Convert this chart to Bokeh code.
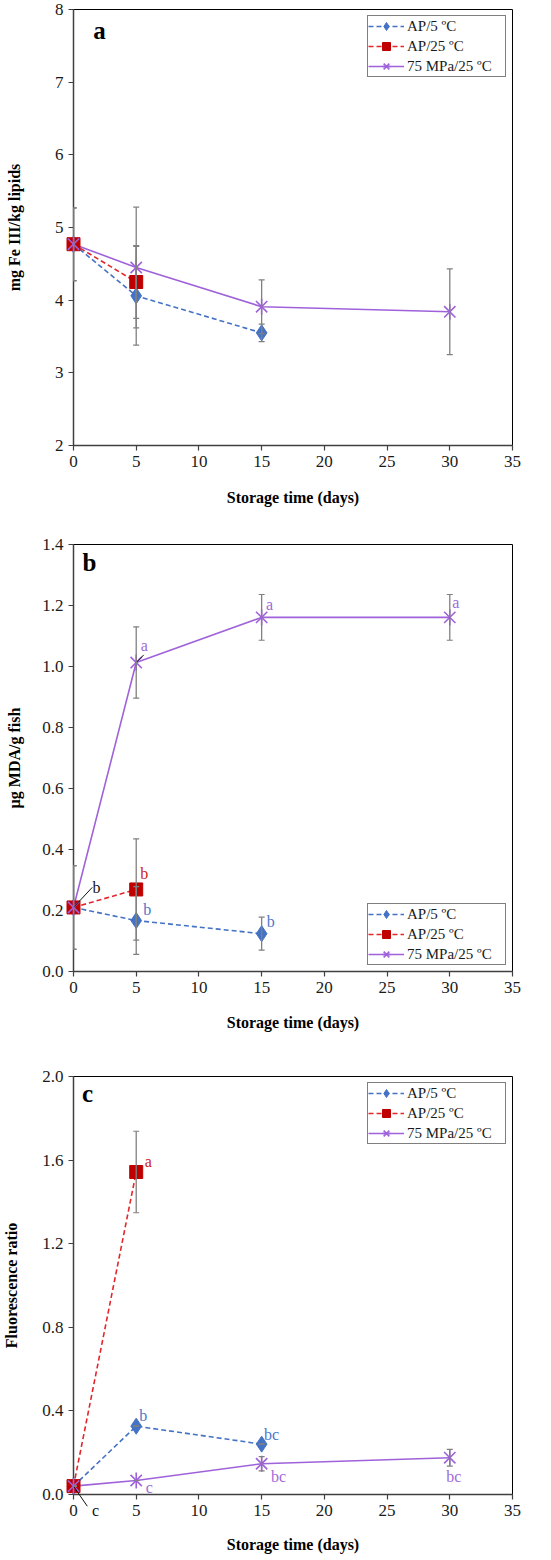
import math
from bokeh.plotting import figure
from bokeh.models import (Range1d, FixedTicker, NumeralTickFormatter, Whisker, ColumnDataSource,
                          Legend, LegendItem, Label, TeeHead)
from bokeh.layouts import column
from bokeh.embed import file_html
from bokeh.resources import INLINE
from bokeh.core.properties import value

# ---------------- data ----------------
SERIES = ["AP/5 ºC", "AP/25 ºC", "75 MPa/25 ºC"]
X_AP5 = [0, 5, 15]
X_AP25 = [0, 5]
X_HP = [0, 5, 15, 30]
X_TICKS = [0, 5, 10, 15, 20, 25, 30, 35]

# panel a: mg Fe III/kg lipids
A_AP5 = [4.77, 4.06, 3.55]
A_AP5_ERR = [0.50, 0.68, 0.12]
A_AP25 = [4.77, 4.25]
A_AP25_ERR = [0.50, 0.50]
A_HP = [4.77, 4.45, 3.91, 3.84]
A_HP_ERR = [0.50, 0.83, 0.37, 0.59]
A_TICKS = [2, 3, 4, 5, 6, 7, 8]

# panel b: µg MDA/g fish
B_AP5 = [0.21, 0.167, 0.124]
B_AP5_ERR = [0.137, 0.111, 0.054]
B_AP25 = [0.21, 0.269]
B_AP25_ERR = [0.137, 0.166]
B_HP = [0.21, 1.013, 1.161, 1.161]
B_HP_ERR = [0.137, 0.117, 0.075, 0.075]
B_TICKS = [0.0, 0.2, 0.4, 0.6, 0.8, 1.0, 1.2, 1.4]

# panel c: fluorescence ratio
C_AP5 = [0.04, 0.327, 0.241]
C_AP5_ERR = [0.0, 0.0, 0.0]
C_AP25 = [0.04, 1.543]
C_AP25_ERR = [0.0, 0.195]
C_HP = [0.04, 0.067, 0.147, 0.176]
C_HP_ERR = [0.0, 0.0, 0.034, 0.04]
C_TICKS = [0.0, 0.4, 0.8, 1.2, 1.6, 2.0]

# significance letters: (series, index, letter)
B_LETTERS = [("hp", 1, "a"), ("hp", 2, "a"), ("hp", 3, "a"),
             ("ap25", 1, "b"), ("ap5", 1, "b"), ("ap5", 2, "b"), ("all", 0, "b")]
C_LETTERS = [("ap25", 1, "a"), ("ap5", 1, "b"), ("ap5", 2, "bc"),
             ("hp", 1, "c"), ("hp", 2, "bc"), ("hp", 3, "bc"), ("all", 0, "c")]

# ---------------- styles ----------------
BLUE = "#4472C4"
RED_LINE = "#E3262B"
RED = "#C00000"
PURPLE = "#9F62DA"
BLACK = "#111111"
COLORS = {"ap5": "#4A78CC", "ap25": "#D01818", "hp": "#A06AD8", "all": BLACK}
SERIF = "Liberation Serif"
TICK_FONT = "'Liberation Serif', 'Times New Roman', serif"

# label offsets in screen px (right, up)
B_OFFS = [(8, 17), (8, 13), (6, 15), (8, 16), (11, 11), (9, 12), (23, 20)]
C_OFFS = [(12, 11), (7, 11), (10, 10), (13, -7), (17, -13), (4, -19), (22, -24)]


def make_panel(xs_list, ys_list, errs_list, ylo, yhi, yticks, yfmt, ylabel,
               H, bl, bt, bb, ylab_standoff, xlab_standoff, letter, letter_off,
               legend_loc):
    p = figure(width=550, height=H, x_range=Range1d(0, 35), y_range=Range1d(ylo, yhi),
               output_backend="svg", toolbar_location=None,
               min_border_left=bl, min_border_right=38, min_border_top=bt,
               min_border_bottom=bb)
    p.xgrid.visible = False
    p.ygrid.visible = False
    p.outline_line_color = "black"
    p.outline_line_width = 1
    p.background_fill_color = "white"
    p.border_fill_color = "white"
    p.xaxis.ticker = FixedTicker(ticks=X_TICKS)
    p.yaxis.ticker = FixedTicker(ticks=yticks)
    p.yaxis.formatter = NumeralTickFormatter(format=yfmt)
    p.xaxis.axis_label = "Storage time (days)"
    p.yaxis.axis_label = ylabel
    p.axis.major_label_text_font = TICK_FONT
    p.axis.major_label_text_font_size = "17px"
    p.axis.major_label_text_color = "#1a1a1a"
    p.axis.axis_label_text_font = SERIF
    p.axis.axis_label_text_font_style = "bold"
    p.axis.axis_label_text_font_size = "16px"
    p.axis.axis_label_text_color = "black"
    p.axis.axis_line_color = "#404040"
    p.axis.axis_line_width = 1.5
    p.axis.major_tick_line_color = "#404040"
    p.axis.major_tick_line_width = 1.2
    p.axis.major_tick_in = 0
    p.axis.major_tick_out = 5
    p.axis.minor_tick_line_color = None
    p.yaxis.axis_label_standoff = ylab_standoff
    p.xaxis.axis_label_standoff = xlab_standoff

    (x5, x25, xh) = xs_list
    (y5, y25, yh) = ys_list
    (e5, e25, eh) = errs_list

    l5 = p.line(x5, y5, line_color=BLUE, line_width=1.6, line_dash="5 3")
    m5 = p.scatter(x5, y5, marker="diamond", size=16,
                   fill_color=BLUE, line_color=BLUE, level="overlay")
    l25 = p.line(x25, y25, line_color=RED_LINE, line_width=1.6, line_dash="5 3")
    m25 = p.scatter(x25, y25, marker="square", size=13, fill_color=RED, line_color=RED,
                    level="overlay")
    lh = p.line(xh, yh, line_color=PURPLE, line_width=1.6)
    mh1 = p.scatter(xh, yh, marker="x", size=16, line_color=PURPLE, line_width=1.6,
                    level="overlay")
    mh2 = p.scatter(xh, yh, marker="dash", angle=math.pi / 2, size=16,
                    line_color=PURPLE, line_width=1.6, level="overlay")

    for xs, ys, es in ((x5, y5, e5), (x25, y25, e25), (xh, yh, eh)):
        src = ColumnDataSource(dict(x=xs, lo=[y - e for y, e in zip(ys, es)],
                                    hi=[y + e for y, e in zip(ys, es)]))
        w = Whisker(source=src, base="x", lower="lo", upper="hi", dimension="height",
                    line_color="#808080", line_width=1.3, level="overlay",
                    upper_head=TeeHead(size=6, line_color="#808080", line_width=1.2),
                    lower_head=TeeHead(size=6, line_color="#808080", line_width=1.2))
        p.add_layout(w)

    legend = Legend(items=[LegendItem(label=SERIES[0], renderers=[l5, m5]),
                           LegendItem(label=SERIES[1], renderers=[l25, m25]),
                           LegendItem(label=SERIES[2], renderers=[lh, mh1, mh2])],
                    location=legend_loc)
    legend.label_text_font = SERIF
    legend.label_text_font_size = "15px"
    legend.label_text_color = "#1a1a1a"
    legend.label_height = 20
    legend.label_width = 98
    legend.glyph_width = 36
    legend.glyph_height = 20
    legend.label_standoff = 3
    legend.padding = 0
    legend.spacing = 0
    legend.margin = 6
    legend.border_line_color = "black"
    legend.border_line_width = 1
    legend.background_fill_alpha = 1
    p.add_layout(legend)

    fh = H - bt - bb
    p.add_layout(Label(x=letter_off[0], y=fh - letter_off[1], x_units="screen",
                       y_units="screen", text=letter, text_font=SERIF,
                       text_font_style="bold", text_font_size="25px",
                       text_align="center", text_baseline="middle", text_color="black"))
    return p


def add_letters(p, letters, offs, data, xdata):
    xs, ys, txt, col, xo, yo = [], [], [], [], [], []
    for (ser, i, t), (dx, dy) in zip(letters, offs):
        key = "hp" if ser == "all" else ser
        xs.append(xdata[key][i])
        ys.append(data[key][i])
        txt.append(t)
        col.append(COLORS[ser])
        xo.append(dx)
        yo.append(-dy)
    src = ColumnDataSource(dict(x=xs, y=ys, t=txt, c=col, xo=xo, yo=yo))
    p.text(x="x", y="y", text="t", source=src, x_offset="xo", y_offset="yo",
           text_color="c", text_font=value(SERIF), text_font_size="16px",
           text_align="center", text_baseline="middle", level="overlay")


def add_leader(p, x, y, dx, dy):
    p.segment(x0=[x], y0=[y], x1=[x + dx], y1=[y + dy], line_color=BLACK,
              line_width=1, level="overlay")


XD = {"ap5": X_AP5, "ap25": X_AP25, "hp": X_HP}

pa = make_panel((X_AP5, X_AP25, X_HP), (A_AP5, A_AP25, A_HP),
                (A_AP5_ERR, A_AP25_ERR, A_HP_ERR), 2, 8, A_TICKS, "0",
                "mg Fe III/kg lipids", 520, 73, 9, 75, 29, 19, "a", (26, 21), "top_right")

pb = make_panel((X_AP5, X_AP25, X_HP), (B_AP5, B_AP25, B_HP),
                (B_AP5_ERR, B_AP25_ERR, B_HP_ERR), 0, 1.4, B_TICKS, "0.0",
                "µg MDA/g fish", 520, 73, 24, 69, 16, 18, "b", (16, 18), "bottom_right")
add_letters(pb, B_LETTERS, B_OFFS, {"ap5": B_AP5, "ap25": B_AP25, "hp": B_HP}, XD)
add_leader(pb, X_HP[0], B_HP[0], 1.5, 0.066)
add_leader(pb, X_HP[1], B_HP[1], 0.6, 0.025)

pc = make_panel((X_AP5, X_AP25, X_HP), (C_AP5, C_AP25, C_HP),
                (C_AP5_ERR, C_AP25_ERR, C_HP_ERR), 0, 2.0, C_TICKS, "0.0",
                "Fluorescence ratio", 518, 73, 36, 64, 19, 17, "c", (14, 17), "top_right")
add_letters(pc, C_LETTERS, C_OFFS, {"ap5": C_AP5, "ap25": C_AP25, "hp": C_HP}, XD)
add_leader(pc, X_HP[0], C_HP[0], 1.1, -0.096)

layout = column(pa, pb, pc, spacing=0)
open("out.html", "w").write(file_html(layout, INLINE))
